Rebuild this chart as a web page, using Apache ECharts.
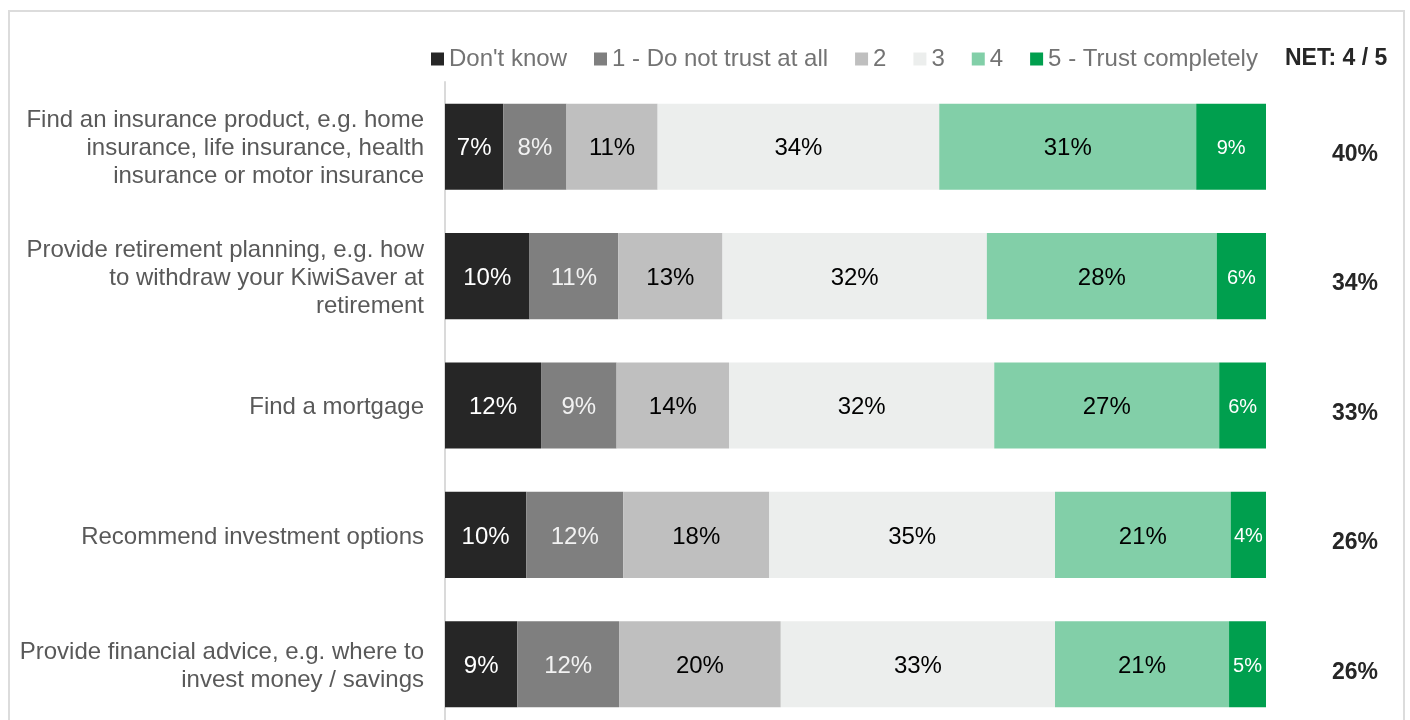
<!DOCTYPE html>
<html>
<head>
<meta charset="utf-8">
<script src="https://cdn.jsdelivr.net/npm/echarts@6/dist/echarts.min.js"></script>
<style>
html,body{margin:0;padding:0;background:#fff;overflow:hidden;}
#chart{width:1410px;height:740px;}
</style>
</head>
<body>
<div id="chart"></div>
<script>
const categories = [
  "Find an insurance product, e.g. home\ninsurance, life insurance, health\ninsurance or motor insurance",
  "Provide retirement planning, e.g. how\nto withdraw your KiwiSaver at\nretirement",
  "Find a mortgage",
  "Recommend investment options",
  "Provide financial advice, e.g. where to\ninvest money / savings"
];
const seriesNames = ["Don't know", "1 - Do not trust at all", "2", "3", "4", "5 - Trust completely"];
const dontKnow = [7.1, 10.3, 11.7, 9.9, 8.8];
const notTrust = [7.7, 10.8, 9.2, 11.8, 12.4];
const two      = [11.1, 12.7, 13.7, 17.8, 19.7];
const three    = [34.3, 32.2, 32.3, 34.8, 33.4];
const four     = [31.3, 28.0, 27.4, 21.4, 21.2];
const five     = [8.5, 6.0, 5.7, 4.3, 4.5];
const net      = [40, 34, 33, 26, 26];
const netTitle = "NET: 4 / 5";

const colors = ['#262626', '#7f7f7f', '#bfbfbf', '#eceeed', '#82cfa8', '#009f4e'];
const labelColors = ['#ffffff', '#f2f2f2', '#000000', '#000000', '#000000', '#ffffff'];
const labelSizes = [24, 24, 24, 24, 24, 20];
const values = [dontKnow, notTrust, two, three, four, five];
const FONT = '"Liberation Sans", Arial, sans-serif';

const chart = echarts.init(document.getElementById('chart'));
chart.setOption({
  animation: false,
  textStyle: { fontFamily: FONT },
  graphic: [{
    type: 'rect', silent: true, z: -10,
    shape: { x: 9, y: 11, width: 1395, height: 760 },
    style: { fill: 'none', stroke: '#dcdcdc', lineWidth: 2 }
  }],
  title: {
    text: netTitle, left: 1285, top: 47, padding: 0,
    textStyle: { fontFamily: FONT, fontSize: 23, fontWeight: 'bold', color: '#262626' }
  },
  legend: {
    left: 431, top: 47, padding: 0,
    itemWidth: 13, itemHeight: 13, itemGap: 27, icon: 'rect',
    textStyle: { fontFamily: FONT, fontSize: 24, color: '#737373' },
    data: seriesNames
  },
  grid: { left: 445, right: 144, top: 82, bottom: 11, containLabel: false },
  xAxis: { type: 'value', min: 0, max: 100, show: false },
  yAxis: [{
    type: 'category', inverse: true, data: categories,
    axisLine: { show: true, lineStyle: { color: '#dadada', width: 2 } },
    axisTick: { show: false },
    axisLabel: {
      margin: 21, fontFamily: FONT, fontSize: 24, lineHeight: 28, color: '#595959', align: 'right',
      formatter: v => '{c|' + v.split('\n').join('}\n{c|') + '}',
      rich: { c: { fontFamily: FONT, fontSize: 24, lineHeight: 28, color: '#595959', padding: [4, 0, 0, 0] } }
    }
  }, {
    type: 'category', inverse: true, data: categories, position: 'right',
    axisLine: { show: false }, axisTick: { show: false },
    axisLabel: {
      margin: 89, align: 'center', verticalAlign: 'top', lineHeight: 16,
      fontFamily: FONT, fontSize: 23, fontWeight: 'bold', color: '#262626',
      formatter: (v, i) => net[i] + '%'
    }
  }],
  series: seriesNames.map((name, k) => ({
    name, type: 'bar', stack: 'total', yAxisIndex: 0,
    barCategoryGap: '33.5%',
    data: values[k],
    itemStyle: { color: colors[k] },
    label: {
      show: true, position: 'inside', offset: [0, 2],
      fontFamily: FONT, fontSize: labelSizes[k], color: labelColors[k],
      formatter: p => Math.round(p.value) + '%'
    }
  }))
});
</script>
</body>
</html>
